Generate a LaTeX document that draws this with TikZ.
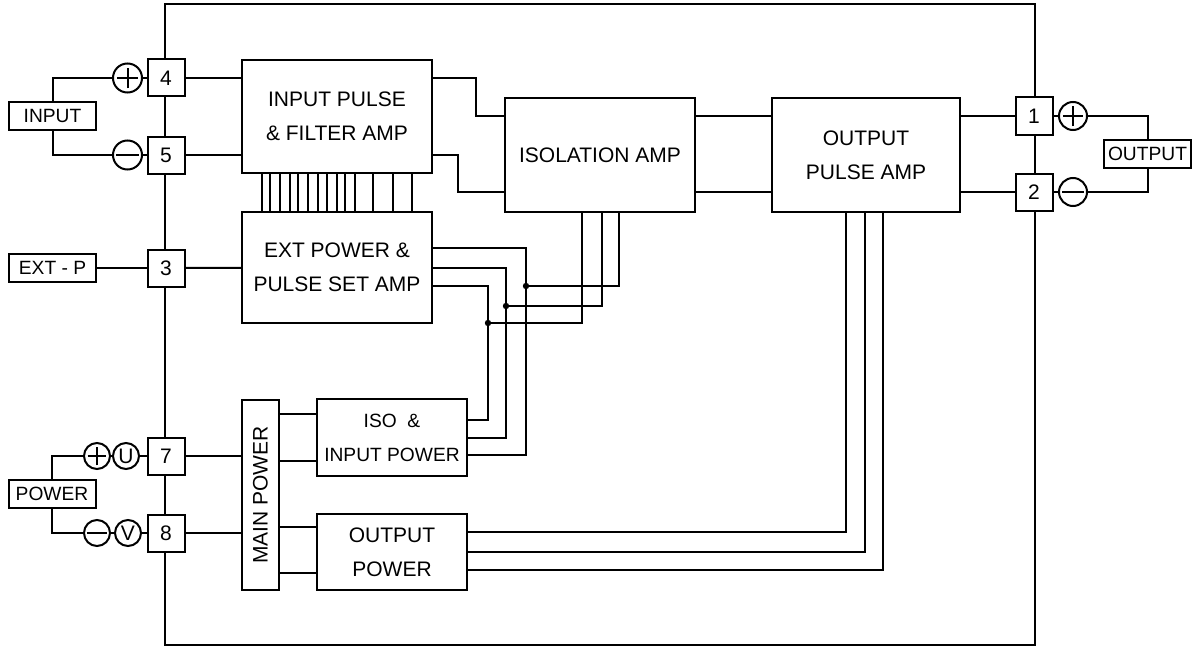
\documentclass[tikz,border=0pt]{standalone}
\usepackage{fontspec}
\setmainfont{Liberation Sans}
\begin{document}
\begin{tikzpicture}[x=0.5pt,y=-0.5pt,line width=1pt,
  every node/.style={font=\fontsize{10.5}{17}\selectfont},
  blk/.style 2 args={draw,align=center,inner sep=0pt,minimum width=#1*0.5pt,minimum height=#2*0.5pt},
  term/.style={draw,fill=white,inner sep=0pt,minimum size=18.5pt},
  lbl/.style={draw,inner sep=0pt,minimum width=43.5pt,minimum height=14pt,font=\fontsize{9.6}{12}\selectfont},
  sgn/.style={draw,circle,fill=white,inner sep=0pt,minimum size=#1},
  mns/.style={sgn=#1,path picture={\draw ([xshift=-0.39*#1]path picture bounding box.center) -- ([xshift=0.39*#1]path picture bounding box.center);}},
  pls/.style={sgn=#1,path picture={\draw ([xshift=-0.36*#1]path picture bounding box.center) -- ([xshift=0.36*#1]path picture bounding box.center)
    ([yshift=-0.36*#1]path picture bounding box.center) -- ([yshift=0.36*#1]path picture bounding box.center);}}]
\useasboundingbox (0,0) rectangle (1198,647);
\draw (165,4) rectangle (1035,645);
\node[blk={190}{113}] (filt) at (337,116.5) {INPUT PULSE\\\& FILTER AMP};
\node[blk={190}{111}] (ext) at (337,267.5) {EXT POWER \&\\PULSE SET AMP};
\node[blk={190}{114}] (isoamp) at (600,155) {ISOLATION AMP};
\node[blk={188}{114}] (opamp) at (866,155) {OUTPUT\\PULSE AMP};
\node[blk={150}{77},font=\fontsize{9.6}{17}\selectfont] (isop) at (392,437.5) {ISO~~\&\\INPUT POWER};
\node[blk={150}{76}] (outp) at (392,552) {OUTPUT\\POWER};
\node[blk={37}{190}] (mainp) at (260.5,495) {};
\node[rotate=90] at (mainp) {MAIN POWER};
\foreach \n/\y in {4/78,5/155,3/268,7/456,8/533}
  \node[term] (t\n) at (166,\y) {\n};
\node[term] (t1) at (1034,116) {1};
\node[term] (t2) at (1034,192) {2};
\node[pls=14.5pt] (ip) at (127.5,78) {};
\node[mns=14.5pt] (im) at (127.5,155) {};
\node[pls=14pt] (op) at (1073,116) {};
\node[mns=14pt] (om) at (1073,192) {};
\node[pls=13pt] (pp) at (97,456) {};
\node[sgn=13pt] (pu) at (126,456) {U};
\node[mns=13pt] (pm) at (97,533) {};
\node[sgn=13pt] (pv) at (128,533) {V};
\node[lbl] (inlab) at (52.5,116) {INPUT};
\node[lbl] (extlab) at (52.5,268) {EXT - P};
\node[lbl] (pwlab) at (52,493.5) {POWER};
\node[lbl] (outlab) at (1147.5,154) {OUTPUT};
\coordinate (j1) at (526,286);
\coordinate (j2) at (506,306);
\coordinate (j3) at (488,323);
\draw (inlab.north) |- (ip.west);
\draw (inlab.south) |- (im.west);
\draw (ip) -- (t4);
\draw (im) -- (t5);
\draw (t4.east) -- (filt.west |- t4);
\draw (t5.east) -- (filt.west |- t5);
\draw (extlab) -- (t3);
\draw (t3) -- (ext);
\draw (pwlab.north) |- (pp.west);
\draw (pwlab.south) |- (pm.west);
\draw (pp) -- (pu) -- (t7);
\draw (pm) -- (pv) -- (t8);
\draw (t7.east) -- (mainp.west |- t7);
\draw (t8.east) -- (mainp.west |- t8);
\draw (t1) -- (op);
\draw (t2) -- (om);
\draw (op.east) -| (outlab.north);
\draw (om.east) -| (outlab.south);
\draw (filt.east |- t4) -| ([xshift=-14pt]isoamp.west |- t1) -- (isoamp.west |- t1);
\draw (filt.east |- t5) -| ([xshift=-23pt]isoamp.west |- t2) -- (isoamp.west |- t2);
\draw (isoamp.east |- t1) -- (opamp.west |- t1);
\draw (isoamp.east |- t2) -- (opamp.west |- t2);
\draw (opamp.east |- t1) -- (t1.west);
\draw (opamp.east |- t2) -- (t2.west);
\foreach \x in {262,270,280,290,298,308,318,327,337,345,355,373,393,412}
  \draw (filt.south -| \x,0) -- (ext.north -| \x,0);
\draw (ext.east |- 0,248) -| (j1 |- 0,455) -- (isop.east |- 0,455);
\draw (ext.east |- 0,268) -| (j2 |- 0,438) -- (isop.east |- 0,438);
\draw (ext.east |- 0,286) -| (j3 |- 0,420) -- (isop.east |- 0,420);
\draw (isoamp.south -| 619,0) |- (j1);
\draw (isoamp.south -| 602,0) |- (j2);
\draw (isoamp.south -| 582,0) |- (j3);
\foreach \j in {j1,j2,j3}
  \fill (\j) circle (1.6pt);
\draw (mainp.east |- 0,414) -- (isop.west |- 0,414);
\draw (mainp.east |- 0,461) -- (isop.west |- 0,461);
\draw (mainp.east |- 0,527) -- (outp.west |- 0,527);
\draw (mainp.east |- 0,573) -- (outp.west |- 0,573);
\draw (outp.east |- 0,532) -| (opamp.south -| 846,0);
\draw (outp.east |- 0,552) -| (opamp.south -| 865,0);
\draw (outp.east |- 0,570) -| (opamp.south -| 883,0);
\end{tikzpicture}
\end{document}
